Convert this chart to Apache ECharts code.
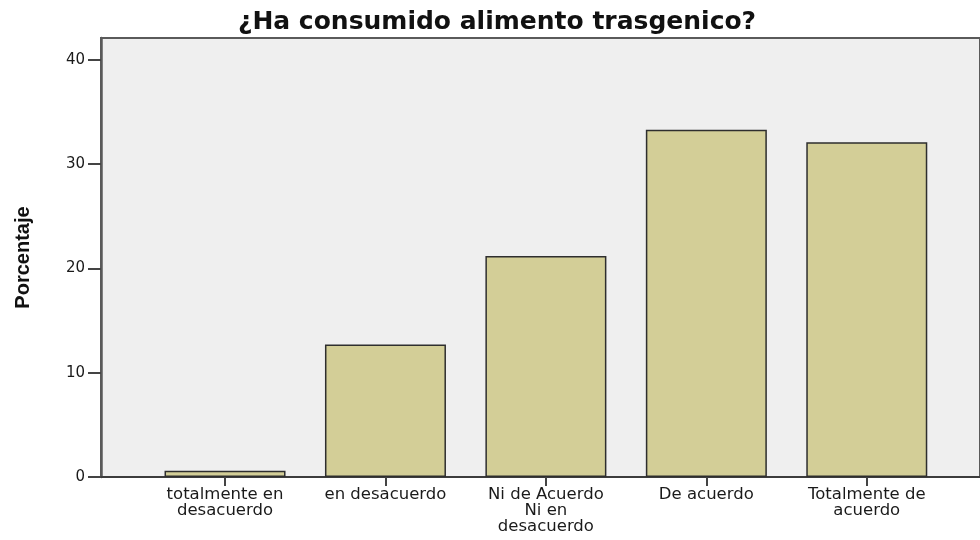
<!DOCTYPE html>
<html>
<head>
<meta charset="utf-8">
<script src="https://cdn.jsdelivr.net/npm/echarts@6/dist/echarts.min.js"></script>
<style>
  html, body { margin: 0; padding: 0; background: #ffffff; }
  #chart { width: 980px; height: 540px; }
</style>
</head>
<body>
<div id="chart"></div>
<script>
  // datos
  const categorias = [
    'totalmente en\ndesacuerdo',
    'en desacuerdo',
    'Ni de Acuerdo\nNi en\ndesacuerdo',
    'De acuerdo',
    'Totalmente de\nacuerdo'
  ];
  const porcentajes = [0.6, 12.7, 21.2, 33.3, 32.1];
  const marcasY = [0, 10, 20, 30, 40];

  const myChart = echarts.init(document.getElementById('chart'));
  const yMax = 42.1;

  const option = {
    animation: false,
    title: {
      text: '¿Ha consumido alimento trasgenico?',
      left: 492,
      textAlign: 'center',
      top: 5,
      textStyle: {
        fontFamily: 'DejaVu Sans',
        fontWeight: 'bold',
        fontSize: 25,
        color: '#111111'
      }
    },
    grid: [
      {
        // marco y fondo
        left: 101, right: -20, top: 38, bottom: 63,
        show: true,
        backgroundColor: '#efefef',
        borderColor: '#5a5a5a',
        borderWidth: 2
      },
      {
        // barras
        left: 144.8, right: 33, top: 38, bottom: 63
      }
    ],
    xAxis: [
      {
        gridIndex: 0,
        type: 'value',
        min: 0,
        max: 1,
        axisLine: { show: true, lineStyle: { color: '#333333', width: 1.5 } },
        axisTick: { show: false },
        axisLabel: { show: false },
        splitLine: { show: false }
      },
      {
        gridIndex: 1,
        type: 'category',
        data: categorias,
        axisLine: { show: false },
        axisTick: {
          show: true,
          alignWithLabel: true,
          length: 9,
          lineStyle: { color: '#444444', width: 2 }
        },
        axisLabel: {
          interval: 0,
          margin: 10,
          fontFamily: 'DejaVu Sans',
          fontSize: 16.5,
          lineHeight: 16,
          color: '#1a1a1a'
        }
      }
    ],
    yAxis: [
      {
        gridIndex: 0,
        type: 'value',
        min: 0,
        max: yMax,
        interval: 10,
        name: 'Porcentaje',
        nameLocation: 'middle',
        nameGap: 68,
        nameTextStyle: {
          fontFamily: 'Liberation Sans',
          fontWeight: 'bold',
          fontSize: 20,
          color: '#111111'
        },
        axisLine: { show: true, lineStyle: { color: '#5a5a5a', width: 2.5 } },
        axisTick: {
          show: true,
          length: 13,
          customValues: marcasY,
          lineStyle: { color: '#444444', width: 2 }
        },
        axisLabel: {
          customValues: marcasY,
          margin: 16,
          fontFamily: 'DejaVu Sans',
          fontSize: 15,
          color: '#1a1a1a'
        },
        splitLine: { show: false }
      },
      {
        gridIndex: 1,
        type: 'value',
        min: 0,
        max: yMax,
        show: false,
        splitLine: { show: false }
      }
    ],
    series: [
      {
        name: 'Porcentaje',
        type: 'bar',
        xAxisIndex: 1,
        yAxisIndex: 1,
        barWidth: 121,
        data: porcentajes,
        itemStyle: {
          color: '#d3ce97',
          borderColor: '#2e2e2e',
          borderWidth: 1.5
        }
      }
    ]
  };

  myChart.setOption(option);
</script>
</body>
</html>
